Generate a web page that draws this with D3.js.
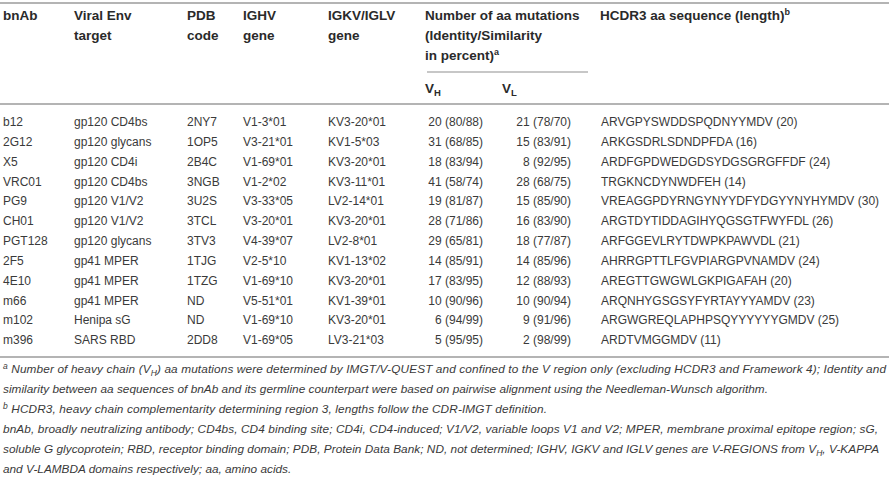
<!DOCTYPE html>
<meta charset="utf-8">
<style>
  body { margin: 0; background: #fff; }
  text { font-family: "Liberation Sans", Arial, sans-serif; fill: #3a3a3a; }
  .head { font-weight: bold; fill: #2a2a2a; font-size: 13.5px; }
  .cell { font-size: 12px; }
  .note { font-style: italic; font-size: 11.8px; }
</style>
<body>
<script src="https://d3js.org/d3.v7.min.js"></script>
<script>

var width = 889, height = 478;

// table data
var bnAbs   = ["b12", "2G12", "X5", "VRC01", "PG9", "CH01", "PGT128", "2F5", "4E10", "m66", "m102", "m396"];
var targets = ["gp120 CD4bs", "gp120 glycans", "gp120 CD4i", "gp120 CD4bs", "gp120 V1/V2", "gp120 V1/V2",
               "gp120 glycans", "gp41 MPER", "gp41 MPER", "gp41 MPER", "Henipa sG", "SARS RBD"];
var pdbCodes = ["2NY7", "1OP5", "2B4C", "3NGB", "3U2S", "3TCL", "3TV3", "1TJG", "1TZG", "ND", "ND", "2DD8"];
var ighv    = ["V1-3*01", "V3-21*01", "V1-69*01", "V1-2*02", "V3-33*05", "V3-20*01", "V4-39*07", "V2-5*10",
               "V1-69*10", "V5-51*01", "V1-69*10", "V1-69*05"];
var igkv    = ["KV3-20*01", "KV1-5*03", "KV3-20*01", "KV3-11*01", "LV2-14*01", "KV3-20*01", "LV2-8*01",
               "KV1-13*02", "KV3-20*01", "KV1-39*01", "KV3-20*01", "LV3-21*03"];
var vhMut   = ["20 (80/88)", "31 (68/85)", "18 (83/94)", "41 (58/74)", "19 (81/87)", "28 (71/86)", "29 (65/81)",
               "14 (85/91)", "17 (83/95)", "10 (90/96)", "6 (94/99)", "5 (95/95)"];
var vlMut   = ["21 (78/70)", "15 (83/91)", "8 (92/95)", "28 (68/75)", "15 (85/90)", "16 (83/90)", "18 (77/87)",
               "14 (85/96)", "12 (88/93)", "10 (90/94)", "9 (91/96)", "2 (98/99)"];
var hcdr3   = ["ARVGPYSWDDSPQDNYYMDV (20)", "ARKGSDRLSDNDPFDA (16)", "ARDFGPDWEDGDSYDGSGRGFFDF (24)",
               "TRGKNCDYNWDFEH (14)", "VREAGGPDYRNGYNYYDFYDGYYNYHYMDV (30)", "ARGTDYTIDDAGIHYQGSGTFWYFDL (26)",
               "ARFGGEVLRYTDWPKPAWVDL (21)", "AHRRGPTTLFGVPIARGPVNAMDV (24)", "AREGTTGWGWLGKPIGAFAH (20)",
               "ARQNHYGSGSYFYRTAYYYAMDV (23)", "ARGWGREQLAPHPSQYYYYYYGMDV (25)", "ARDTVMGGMDV (11)"];

var svg = d3.select("body").append("svg")
    .attr("width", width)
    .attr("height", height);

var columns = [
  { values: bnAbs,    x: 3,   anchor: "start" },
  { values: targets,  x: 74,  anchor: "start" },
  { values: pdbCodes, x: 187, anchor: "start" },
  { values: ighv,     x: 243, anchor: "start" },
  { values: igkv,     x: 328, anchor: "start" },
  { values: vhMut,    x: 483, anchor: "end" },
  { values: vlMut,    x: 571, anchor: "end" },
  { values: hcdr3,    x: 601, anchor: "start" }
];

var y = d3.scaleLinear().domain([0, bnAbs.length - 1]).range([122, 340]);

// rules
function rule(x1, x2, yy, w) {
  svg.append("line")
    .attr("x1", x1).attr("x2", x2)
    .attr("y1", yy).attr("y2", yy)
    .attr("stroke", "#b4b4b4")
    .attr("stroke-width", w);
}
rule(0, width, 3, 2);
rule(427, 588, 72, 1.5);
rule(0, width, 104, 2);
rule(0, width, 357, 2);

// header
var headLines = [
  { x: 3,   lines: ["bnAb"] },
  { x: 74,  lines: ["Viral Env", "target"] },
  { x: 187, lines: ["PDB", "code"] },
  { x: 243, lines: ["IGHV", "gene"] },
  { x: 328, lines: ["IGKV/IGLV", "gene"] },
  { x: 425, lines: ["Number of aa mutations", "(Identity/Similarity"] }
];
var hy = d3.scaleLinear().domain([0, 1]).range([15, 35]);

headLines.forEach(function (h) {
  h.lines.forEach(function (l, i) {
    svg.append("text").attr("class", "head")
      .attr("x", h.x).attr("y", hy(i)).attr("dy", "0.35em")
      .text(l);
  });
});

// header lines with superscripts
function supText(x, yy, main, sup) {
  var t = svg.append("text").attr("class", "head")
    .attr("x", x).attr("y", yy).attr("dy", "0.35em");
  t.append("tspan").text(main);
  t.append("tspan").attr("dy", -5).style("font-size", "9px").text(sup);
}
supText(425, hy(2), "in percent)", "a");
supText(600, hy(0), "HCDR3 aa sequence (length)", "b");

// V_H / V_L
[{ x: 425, sub: "H" }, { x: 502, sub: "L" }].forEach(function (d) {
  var t = svg.append("text").attr("class", "head")
    .attr("x", d.x).attr("y", 88).attr("dy", "0.35em");
  t.append("tspan").text("V");
  t.append("tspan").attr("dy", 3).style("font-size", "9.5px").text(d.sub);
});

// body cells
columns.forEach(function (c) {
  svg.append("g").selectAll("text")
    .data(c.values)
    .enter().append("text")
      .attr("class", "cell")
      .attr("x", c.x)
      .attr("y", function (d, i) { return y(i); })
      .attr("dy", "0.35em")
      .attr("text-anchor", c.anchor)
      .text(function (d) { return d; });
});

// footnotes: each line as segments [text, kind]
var notes = [
  [["a", "sup"], [" Number of heavy chain (V", ""], ["H", "sub"], [") aa mutations were determined by IMGT/V-QUEST and confined to the V region only (excluding HCDR3 and Framework 4); Identity and", ""]],
  [["similarity between aa sequences of bnAb and its germline counterpart were based on pairwise alignment using the Needleman-Wunsch algorithm.", ""]],
  [["b", "sup"], [" HCDR3, heavy chain complementarity determining region 3, lengths follow the CDR-IMGT definition.", ""]],
  [["bnAb, broadly neutralizing antibody; CD4bs, CD4 binding site; CD4i, CD4-induced; V1/V2, variable loops V1 and V2; MPER, membrane proximal epitope region; sG,", ""]],
  [["soluble G glycoprotein; RBD, receptor binding domain; PDB, Protein Data Bank; ND, not determined; IGHV, IGKV and IGLV genes are V-REGIONS from V", ""], ["H", "sub"], [", V-KAPPA", ""]],
  [["and V-LAMBDA domains respectively; aa, amino acids.", ""]]
];
var noteWidths = [883, 765, 544, 875, 876, null];
var ny = d3.scaleLinear().domain([0, 1]).range([373, 393]);
var shift = { sup: -4.5, sub: 3 };

notes.forEach(function (segs, i) {
  var t = svg.append("text").attr("class", "note")
    .attr("x", 3).attr("y", ny(i)).attr("dy", "0.35em");
  var off = 0;
  segs.forEach(function (s) {
    var target = shift[s[1]] || 0;
    var sp = t.append("tspan").attr("dy", target - off).text(s[0]);
    if (s[1]) sp.style("font-size", "8.5px");
    off = target;
  });
  if (noteWidths[i]) t.attr("textLength", noteWidths[i]).attr("lengthAdjust", "spacing");
});

</script>
</body>
